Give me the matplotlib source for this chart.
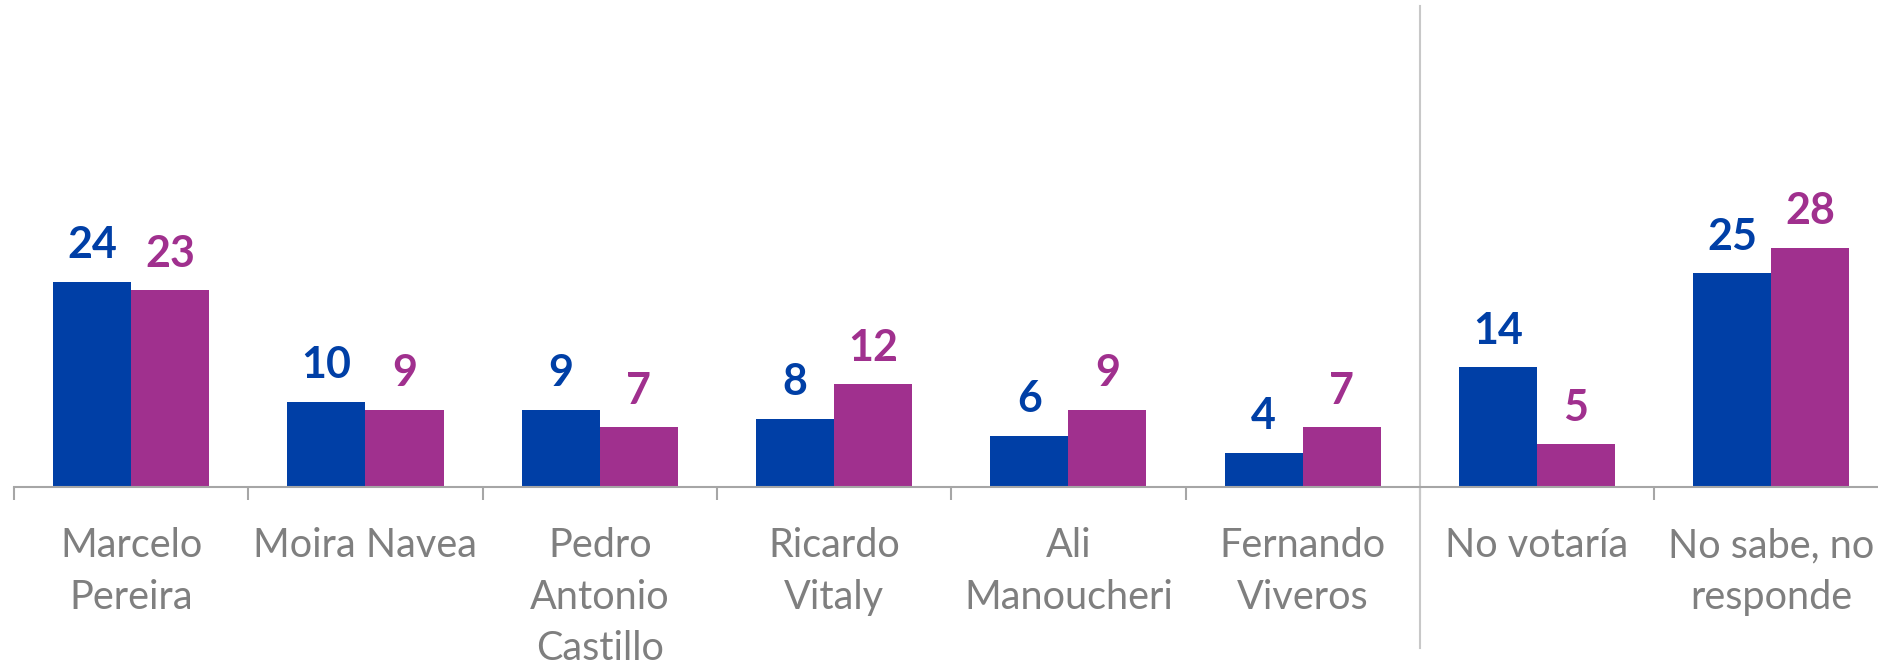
import matplotlib
matplotlib.use('Agg')
import matplotlib.pyplot as plt
import numpy as np

categories = ['Marcelo\nPereira', 'Moira Navea', 'Pedro\nAntonio\nCastillo', 'Ricardo\nVitaly',
              'Ali\nManoucheri', 'Fernando\nViveros', 'No votaría', 'No sabe, no\nresponde']
serie_azul = [24, 10, 9, 8, 6, 4, 14, 25]
serie_morada = [23, 9, 7, 12, 9, 7, 5, 28]

color_azul = '#003fa6'
color_morado = '#a0308e'
color_gris = '#7f7f7f'
color_eje = '#a6a6a6'

plt.rcParams['font.family'] = ['Lato', 'DejaVu Sans']

W, H = 1878, 665
fig = plt.figure(figsize=(W / 100, H / 100), dpi=100)
left_px, base_px, cat_px = 14, 487, 234.3
ax = fig.add_axes([left_px / W, (H - base_px) / H, 8 * cat_px / W, base_px / H])

x = np.arange(len(categories))
w = 1 / 3
b1 = ax.bar(x - w / 2, serie_azul, w, color=color_azul)
b2 = ax.bar(x + w / 2, serie_morada, w, color=color_morado)

for bars, vals, col in [(b1, serie_azul, color_azul), (b2, serie_morada, color_morado)]:
    for rect, v in zip(bars, vals):
        ax.annotate(str(v), (rect.get_x() + rect.get_width() / 2, rect.get_height()),
                    xytext=(0, 17), textcoords='offset points', ha='center', va='baseline',
                    fontsize=31, fontweight='bold', color=col)

ax.set_xlim(-0.5, len(categories) - 0.5)
ax.set_ylim(0, 57)

for s in ['top', 'right', 'left']:
    ax.spines[s].set_visible(False)
ax.spines['bottom'].set_color(color_eje)
ax.spines['bottom'].set_linewidth(1.5)
ax.set_yticks([])

ax.set_xticks(np.arange(len(categories) + 1) - 0.5)
ax.set_xticklabels([])
ax.tick_params(axis='x', which='major', length=9, width=1.5, color=color_eje, direction='out')
ax.set_xticks(x, minor=True)
ax.set_xticklabels(categories, minor=True, fontsize=28.5, color=color_gris, linespacing=1.48)
ax.tick_params(axis='x', which='minor', length=0, pad=29)

# separador entre candidatos y otras respuestas
ax.axvline(5.5, ymin=-0.33, ymax=0.988, color='#c8c8c8', linewidth=1.5, clip_on=False)

fig.savefig('out.png', dpi=100)
